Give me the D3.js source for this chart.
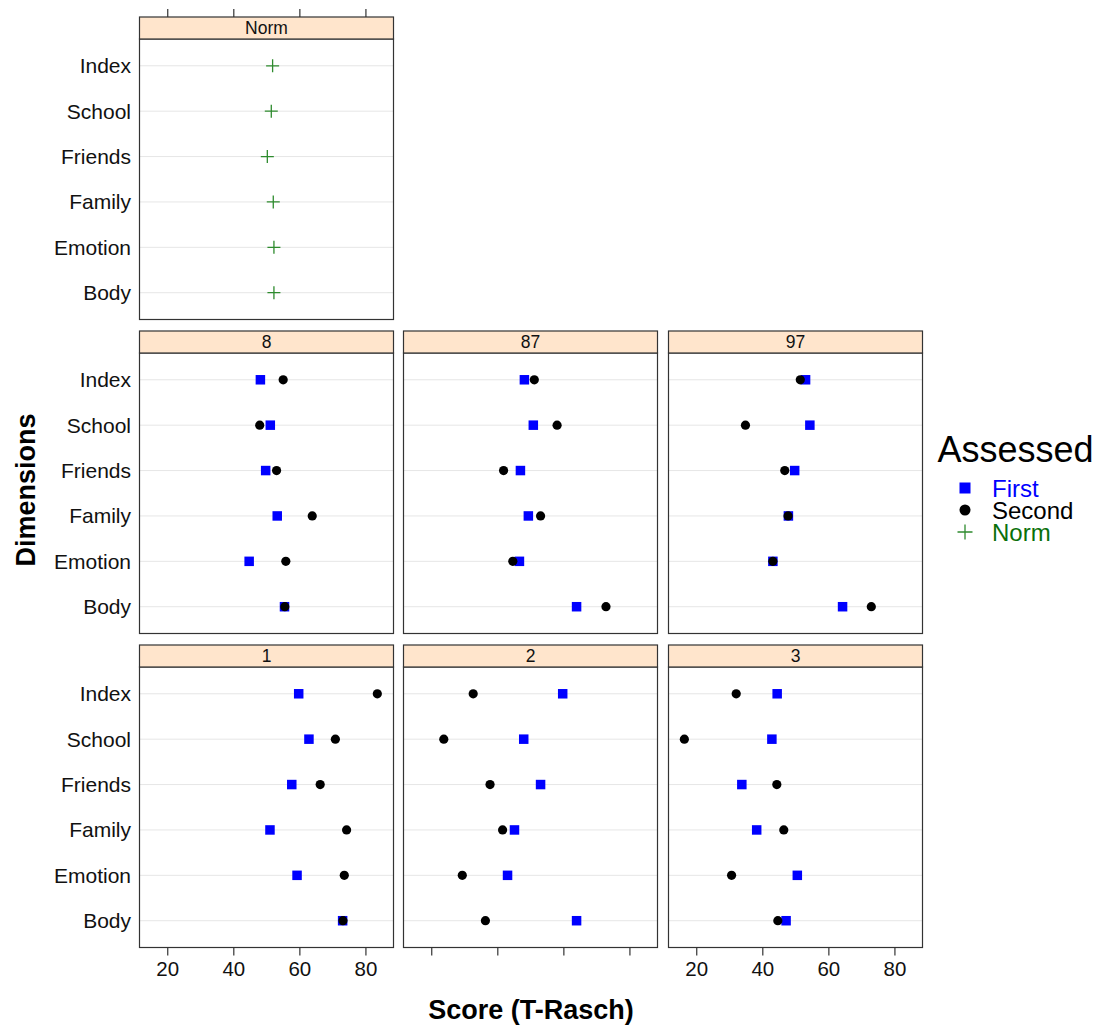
<!DOCTYPE html>
<html>
<head>
<meta charset="utf-8">
<script src="https://cdn.jsdelivr.net/npm/d3@7"></script>
<style>
  html, body { margin: 0; padding: 0; background: #fff; }
  text { font-family: "Liberation Sans", Arial, Helvetica, sans-serif; }
</style>
</head>
<body>
<svg id="chart" width="1100" height="1026"></svg>
<script>
// ---- data ----
const dimensions = ["Body", "Emotion", "Family", "Friends", "School", "Index"];
const panelNames = ["Norm", "8", "87", "97", "1", "2", "3"];
const xTicks = [20, 40, 60, 80];
const normValues = [52.3, 52.3, 52.1, 50.3, 51.5, 51.9];
const first8  = [55.5, 44.8, 53.3, 49.8, 51.2, 48.2];
const first87 = [64.0, 46.7, 49.4, 47.0, 50.9, 48.2];
const first97 = [64.3, 43.2, 47.9, 49.8, 54.4, 53.1];
const first1  = [73.1, 59.3, 51.1, 57.7, 62.9, 59.8];
const first2  = [64.0, 43.1, 45.2, 53.1, 48.0, 59.8];
const first3  = [47.2, 50.6, 38.3, 33.8, 42.9, 44.5];
const second8  = [55.6, 55.9, 63.9, 53.1, 48.0, 55.1];
const second87 = [72.9, 44.7, 53.1, 41.9, 58.1, 51.2];
const second97 = [73.0, 43.2, 47.8, 46.8, 34.9, 51.5];
const second1  = [73.2, 73.6, 74.3, 66.3, 70.9, 83.6];
const second2  = [36.4, 29.4, 41.6, 37.8, 23.8, 32.7];
const second3  = [44.7, 30.7, 46.5, 44.4, 16.4, 32.1];
const legendLabels = ["First", "Second", "Norm"];

const firstByPanel = {"8": first8, "87": first87, "97": first97, "1": first1, "2": first2, "3": first3};
const secondByPanel = {"8": second8, "87": second87, "97": second97, "1": second1, "2": second2, "3": second3};

// ---- layout ----
const colX = [139.5, 403.5, 668.5];
const panelW = 254;
const rowTop = [17, 331, 645];
const stripH = 22;
const rowH = 302.5;
const panelPos = {"Norm": [0, 0], "8": [1, 0], "87": [1, 1], "97": [1, 2], "1": [2, 0], "2": [2, 1], "3": [2, 2]};

const colFirst = "#0000FF", colSecond = "#000000", colNorm = "#2E8B2E", colNormText = "#0A700A";

const svg = d3.select("#chart");

panelNames.forEach(name => {
  const [r, c] = panelPos[name];
  const x0 = colX[c], top = rowTop[r];
  const pTop = top + stripH, pBot = top + rowH;
  const x = d3.scaleLinear().domain([11.6, 88.5]).range([x0, x0 + panelW]);
  const y = d3.scalePoint().domain(dimensions).range([pBot, pTop]).padding(0.59);
  const g = svg.append("g");

  // panel background + grid
  g.append("rect").attr("x", x0).attr("y", pTop).attr("width", panelW).attr("height", pBot - pTop)
    .attr("fill", "#fff");
  g.selectAll("line.grid").data(dimensions).join("line").attr("class", "grid")
    .attr("x1", x0).attr("x2", x0 + panelW)
    .attr("y1", d => y(d)).attr("y2", d => y(d))
    .attr("stroke", "#e6e6e6").attr("stroke-width", 1);

  if (name === "Norm") {
    const s = 6.5;
    g.selectAll("path.norm").data(dimensions).join("path").attr("class", "norm")
      .attr("d", (d, i) => {
        const cx = x(normValues[i]), cy = y(d);
        return `M${cx - s},${cy}H${cx + s}M${cx},${cy - s}V${cy + s}`;
      })
      .attr("stroke", colNorm).attr("stroke-width", 1.3).attr("fill", "none");
  } else {
    const f = firstByPanel[name], sc = secondByPanel[name];
    const sq = 9.5;
    g.selectAll("rect.first").data(dimensions).join("rect").attr("class", "first")
      .attr("x", (d, i) => x(f[i]) - sq / 2).attr("y", d => y(d) - sq / 2)
      .attr("width", sq).attr("height", sq).attr("fill", colFirst);
    g.selectAll("circle.second").data(dimensions).join("circle").attr("class", "second")
      .attr("cx", (d, i) => x(sc[i])).attr("cy", d => y(d))
      .attr("r", 4.6).attr("fill", colSecond);
  }

  // panel border
  g.append("rect").attr("x", x0).attr("y", pTop).attr("width", panelW).attr("height", pBot - pTop)
    .attr("fill", "none").attr("stroke", "#333").attr("stroke-width", 1.2);

  // strip
  g.append("rect").attr("x", x0).attr("y", top).attr("width", panelW).attr("height", stripH)
    .attr("fill", "#FFE5CC").attr("stroke", "#333").attr("stroke-width", 1.2);
  g.append("text").attr("x", x0 + panelW / 2).attr("y", top + stripH / 2 + 6)
    .attr("text-anchor", "middle").attr("font-size", 17.5).attr("fill", "#111").text(name);

  // y-axis labels on left column
  if (c === 0) {
    g.selectAll("text.ylab").data(dimensions).join("text").attr("class", "ylab")
      .attr("x", x0 - 8.5).attr("y", d => y(d) + 7.5)
      .attr("text-anchor", "end").attr("font-size", 21).attr("fill", "#111").text(d => d);
  }

  // top ticks (top row)
  if (r === 0) {
    const ax = d3.axisTop(x).tickValues(xTicks).tickSize(8).tickFormat("");
    const a = g.append("g").attr("transform", `translate(0,${top})`).call(ax);
    a.select(".domain").remove();
    a.selectAll(".tick line").attr("stroke", "#333").attr("stroke-width", 1.2);
  }
  // bottom ticks (bottom row)
  if (r === 2) {
    const ax = d3.axisBottom(x).tickValues(xTicks).tickSize(8).tickPadding(6)
      .tickFormat(c === 1 ? "" : d3.format("d"));
    const a = g.append("g").attr("transform", `translate(0,${pBot})`).call(ax);
    a.select(".domain").remove();
    a.selectAll(".tick line").attr("stroke", "#333").attr("stroke-width", 1.2);
    a.selectAll(".tick text").attr("font-size", 20.5).attr("fill", "#111")
      .attr("font-family", "Liberation Sans, Arial, sans-serif");
  }
});

// axis titles
svg.append("text").attr("x", 531).attr("y", 1019).attr("text-anchor", "middle")
  .attr("font-size", 27).attr("font-weight", "bold").attr("fill", "#000").text("Score (T-Rasch)");
svg.append("text").attr("transform", "translate(35,490) rotate(-90)").attr("text-anchor", "middle")
  .attr("font-size", 27).attr("font-weight", "bold").attr("fill", "#000").text("Dimensions");

// legend
const lg = svg.append("g");
lg.append("text").attr("x", 1015.5).attr("y", 462).attr("text-anchor", "middle")
  .attr("font-size", 36).attr("fill", "#000").text("Assessed");
const legendY = d3.scalePoint().domain(legendLabels).range([488, 532]);
const legendCol = {"First": colFirst, "Second": colSecond, "Norm": colNormText};
lg.append("rect").attr("x", 965 - 5.5).attr("y", legendY("First") - 5.5).attr("width", 11).attr("height", 11).attr("fill", colFirst);
lg.append("circle").attr("cx", 965).attr("cy", legendY("Second")).attr("r", 5.5).attr("fill", colSecond);
lg.append("path").attr("d", `M${965 - 7.5},${legendY("Norm")}H${965 + 7.5}M965,${legendY("Norm") - 7.5}V${legendY("Norm") + 7.5}`)
  .attr("stroke", colNorm).attr("stroke-width", 1.3);
lg.selectAll("text.item").data(legendLabels).join("text").attr("class", "item")
  .attr("x", 992).attr("y", d => legendY(d) + 8.5).attr("font-size", 24)
  .attr("fill", d => legendCol[d]).text(d => d);
</script>
</body>
</html>
